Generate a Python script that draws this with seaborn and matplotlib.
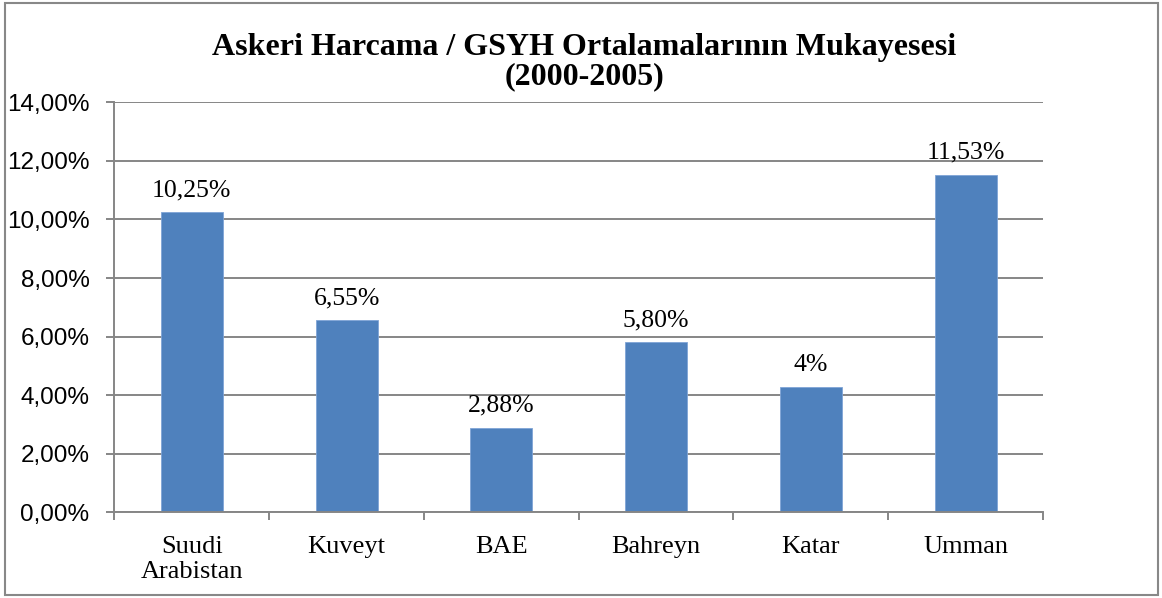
import numpy as np
import pandas as pd
import matplotlib
matplotlib.use("Agg")
import matplotlib.pyplot as plt
import seaborn as sns
from matplotlib.patches import Rectangle
from matplotlib.ticker import FuncFormatter

# Chart data
countries = ["Suudi\nArabistan", "Kuveyt", "BAE", "Bahreyn", "Katar", "Umman"]
spending_pct = [10.25, 6.55, 2.88, 5.80, 4.27, 11.53]
value_labels = ["10,25%", "6,55%", "2,88%", "5,80%", "4%", "11,53%"]
y_ticks = [0, 2, 4, 6, 8, 10, 12, 14]

sns.set_theme(style="white")
plt.rcParams["font.family"] = ["Liberation Serif", "DejaVu Serif"]
plt.rcParams["text.color"] = "black"

df = pd.DataFrame({"Ulke": countries, "Oran": spending_pct})

fig = plt.figure(figsize=(11.62, 5.98), dpi=100)
ax = fig.add_axes([0.0985, 0.1433, 0.7991, 0.6856])

sns.barplot(data=df, x="Ulke", y="Oran", color="#4F81BD", width=0.4,
            saturation=1, ax=ax, edgecolor="#7FA4D6", linewidth=0.6)

ax.set_ylim(0, 14)
ax.set_xlim(-0.5, len(countries) - 0.5)
ax.set_yticks(y_ticks)
ax.yaxis.set_major_formatter(FuncFormatter(lambda v, p: f"{v:.2f}%".replace(".", ",")))
for lbl in ax.get_yticklabels():
    lbl.set_fontfamily(["Liberation Sans", "DejaVu Sans"])
    lbl.set_fontsize(17.5)
    lbl.set_color("black")

ax.grid(axis="y", color="#868686", linewidth=1.4)
ax.set_axisbelow(True)
for side in ["top", "right"]:
    ax.spines[side].set_visible(False)
for side in ["left", "bottom"]:
    ax.spines[side].set_color("#868686")
    ax.spines[side].set_linewidth(1.4)

# category boundary ticks on x, labels at centres
ax.set_xticks(np.arange(-0.5, len(countries)), minor=True)
ax.tick_params(axis="x", which="minor", bottom=True, length=6, width=1.4, color="#868686")
ax.tick_params(axis="x", which="major", length=0, pad=17, labelsize=19, labelcolor="black")
ax.tick_params(axis="y", which="major", left=True, length=6, width=1.4, color="#868686", pad=12)
for lbl in ax.get_xticklabels():
    lbl.set_linespacing(1.2)
ax.set_xlabel("")
ax.set_ylabel("")

ax.bar_label(ax.containers[0], labels=value_labels, padding=8, fontsize=18.5, color="black")

fig.suptitle("Askeri Harcama / GSYH Ortalamalarının Mukayesesi\n(2000-2005)",
             x=0.503, y=0.945, fontsize=23, fontweight="bold", linespacing=1.0,
             color="black")

fig.patches.append(Rectangle((5 / 1162, 3 / 598), 1153 / 1162, 592 / 598,
                             transform=fig.transFigure, fill=False,
                             edgecolor="#888888", linewidth=1.5))

fig.savefig("out.png", dpi=100)
